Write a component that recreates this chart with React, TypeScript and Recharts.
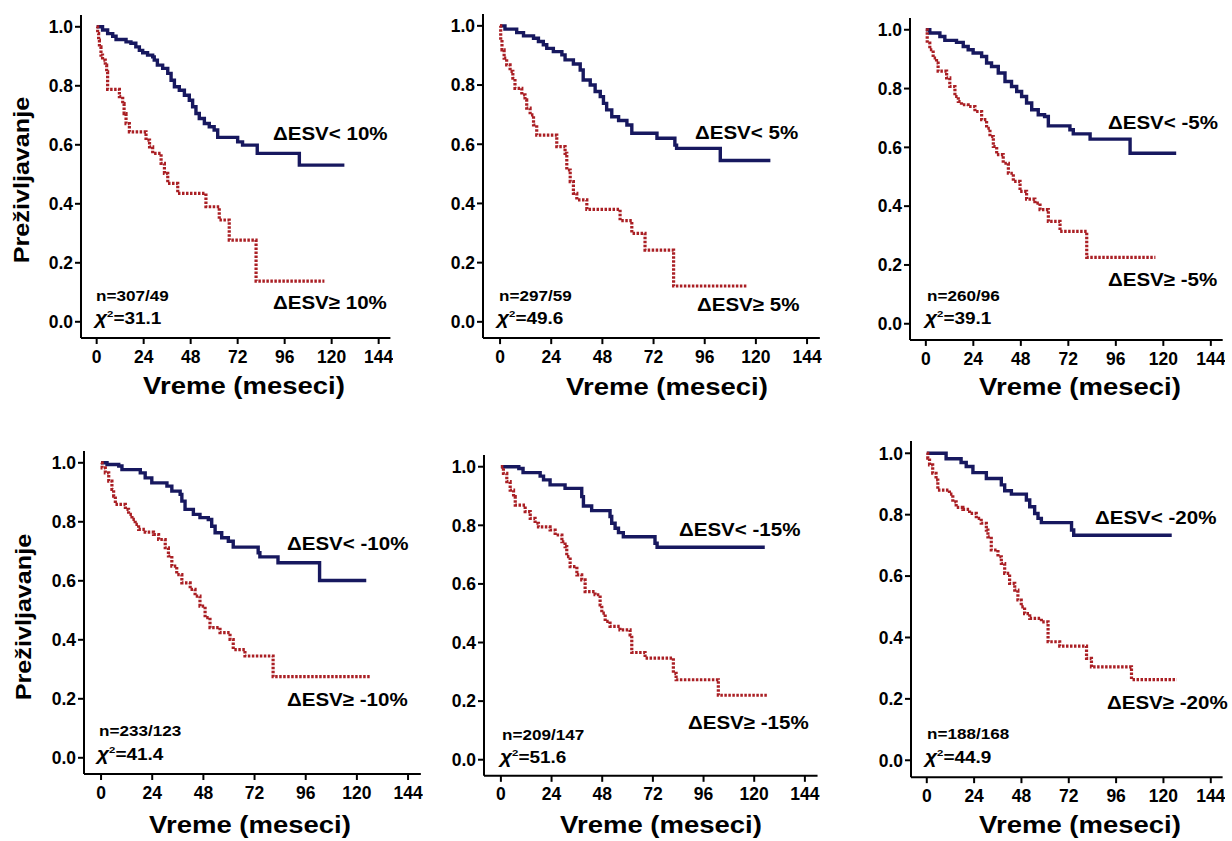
import React from "react"
import { LineChart, Line, XAxis, YAxis } from "recharts"

type Pt = { t: number; s: number }
const pts = (rows: number[][]): Pt[] => rows.map(([t, s]) => ({ t, s }))

// survival curves, [month, survival] at each step
const p1Below = pts([[0,1],[3,0.989],[5.6,0.977],[8.2,0.968],[9.9,0.957],[15,0.949],[17.5,0.944],[20,0.932],[21.8,0.92],[23.5,0.912],[26,0.904],[28.6,0.898],[29.4,0.887],[31,0.87],[33.7,0.859],[36.3,0.842],[38,0.819],[39.7,0.797],[42.2,0.785],[44.8,0.768],[47.3,0.751],[49,0.729],[50.7,0.706],[52.4,0.689],[55,0.672],[57.5,0.661],[60,0.65],[61.8,0.625],[72,0.61],[74.5,0.599],[82,0.571],[103.5,0.531],[126.5,0.531]])
const p1Above = pts([[0,1],[0.5,0.977],[1,0.955],[1.4,0.932],[2.2,0.904],[3,0.887],[4.4,0.87],[5.1,0.847],[5.6,0.788],[11.6,0.763],[13.3,0.74],[14,0.706],[15,0.672],[16.7,0.644],[25.2,0.616],[27,0.593],[28.6,0.571],[32.9,0.537],[34.6,0.503],[36.3,0.469],[41.4,0.435],[55.8,0.39],[62.6,0.345],[67.7,0.277],[81.4,0.138],[116.3,0.138]])

const p2Below = pts([[0,1],[2.3,0.989],[7.8,0.977],[11,0.966],[15.7,0.958],[18,0.947],[20.3,0.936],[21.9,0.924],[25,0.913],[29,0.902],[30.5,0.885],[34.4,0.871],[37.6,0.851],[39,0.817],[42.3,0.8],[44.6,0.778],[47,0.761],[48.5,0.738],[50,0.716],[52.4,0.693],[55.6,0.68],[59.5,0.665],[61.8,0.637],[73.6,0.62],[82,0.597],[82.8,0.586],[103.3,0.545],[126.8,0.545]])
const p2Above = pts([[0,1],[0.3,0.953],[0.9,0.919],[1.9,0.891],[3.1,0.868],[4.7,0.846],[6,0.823],[7,0.789],[10.2,0.767],[11.7,0.75],[12.5,0.722],[14.1,0.699],[15.7,0.665],[17.2,0.631],[26.6,0.592],[30.5,0.569],[31.3,0.513],[32.9,0.474],[34.4,0.434],[36,0.412],[40.7,0.38],[56.3,0.342],[61.8,0.299],[68,0.242],[81.4,0.121],[115.8,0.121]])

const p3Below = pts([[0,1],[2,0.989],[7.1,0.977],[9.6,0.964],[15.5,0.957],[18.9,0.943],[21.4,0.932],[23.9,0.921],[28.2,0.909],[30.7,0.887],[33.2,0.875],[36.6,0.853],[40,0.824],[43.3,0.807],[45.9,0.79],[48.4,0.773],[50.9,0.751],[53.5,0.728],[56.8,0.711],[60,0.705],[61.9,0.673],[72.8,0.66],[74.5,0.646],[83,0.628],[103.2,0.58],[126.5,0.58]])
const p3Above = pts([[0,1],[0.7,0.955],[2,0.932],[3.7,0.904],[5.4,0.887],[6.2,0.859],[10.5,0.836],[12.1,0.807],[14.7,0.773],[16.4,0.756],[18,0.745],[21.4,0.739],[24.8,0.722],[28.2,0.694],[30.7,0.665],[32.4,0.637],[34.1,0.603],[35.8,0.575],[39.1,0.546],[41.7,0.512],[44.2,0.484],[47.6,0.45],[50.9,0.424],[55.1,0.41],[57.7,0.388],[61.9,0.348],[67.8,0.314],[81.3,0.226],[116,0.226]])

const p4Below = pts([[0,1],[2.8,0.994],[8.3,0.989],[9.8,0.977],[18.4,0.966],[20.7,0.949],[23.8,0.932],[30.9,0.921],[33.2,0.904],[37.1,0.893],[37.9,0.87],[39.4,0.842],[43.3,0.825],[46.4,0.814],[50.3,0.808],[51.9,0.785],[53.5,0.763],[56.6,0.746],[59.7,0.734],[62,0.714],[73.7,0.695],[74.5,0.681],[83,0.661],[102.5,0.601],[124.4,0.601]])
const p4Above = pts([[0,1],[0.5,0.983],[2,0.966],[3.6,0.938],[5.1,0.91],[5.9,0.887],[6.7,0.859],[11.4,0.842],[12.9,0.825],[14.5,0.808],[16,0.791],[17.6,0.774],[20.7,0.765],[24.6,0.757],[27,0.74],[30.1,0.712],[31.6,0.684],[33.2,0.65],[35.5,0.621],[37.9,0.593],[41.8,0.571],[44.1,0.548],[46.4,0.514],[48.8,0.475],[51.1,0.441],[55.8,0.424],[60.5,0.401],[62,0.367],[67.5,0.345],[80.7,0.275],[126.7,0.275]])

const p5Below = pts([[0,1],[8.5,0.994],[10.5,0.98],[18.6,0.968],[20.2,0.955],[23.3,0.938],[30.4,0.926],[38.3,0.898],[39.1,0.866],[43,0.85],[51.7,0.83],[52.5,0.807],[54.1,0.79],[55.7,0.775],[58,0.761],[73,0.739],[74,0.725],[125,0.725]])
const p5Above = pts([[0,1],[1.2,0.977],[2.8,0.949],[4.4,0.92],[6,0.898],[6.8,0.869],[11.5,0.847],[13.9,0.824],[16.2,0.807],[17.8,0.795],[23.3,0.784],[25.7,0.767],[28.9,0.744],[30.4,0.727],[31.2,0.693],[32.8,0.659],[36,0.631],[38.3,0.614],[39.9,0.574],[44.6,0.563],[47,0.528],[47.8,0.5],[49.4,0.472],[51.7,0.455],[56.4,0.443],[61.2,0.426],[62,0.366],[68.3,0.347],[81.7,0.295],[83,0.273],[103,0.22],[126.6,0.22]])

const p6Below = pts([[0,1],[9.8,0.982],[17.4,0.97],[20,0.957],[23.4,0.937],[30.2,0.918],[37.8,0.897],[39.5,0.878],[42.9,0.867],[50.5,0.848],[52.2,0.826],[54.7,0.804],[56.4,0.788],[58.1,0.774],[73.4,0.75],[74.5,0.733],[124.2,0.733]])
const p6Above = pts([[0,1],[0.5,0.984],[1.4,0.962],[3,0.935],[4.7,0.913],[5.6,0.88],[11.5,0.867],[13.2,0.842],[14.9,0.824],[18.3,0.817],[21.7,0.804],[25.1,0.788],[27.6,0.772],[30.2,0.75],[31,0.728],[32.7,0.685],[36.1,0.663],[37.8,0.641],[39.5,0.609],[42,0.576],[44.6,0.554],[46.2,0.522],[47.9,0.5],[49.6,0.478],[52.2,0.462],[58.1,0.451],[61.5,0.386],[67.4,0.372],[81,0.332],[83.5,0.304],[103.8,0.263],[126.7,0.263]])

const xTicks = [0, 24, 48, 72, 96, 120, 144]
const yTicks = [0, 0.2, 0.4, 0.6, 0.8, 1]
const cutoffs = ["10%", "5%", "-5%", "-10%", "-15%", "-20%"]
const nLabels = ["n=307/49", "n=297/59", "n=260/96", "n=233/123", "n=209/147", "n=188/168"]
const chiLabels = ["31.1", "49.6", "39.1", "41.4", "51.6", "44.9"]

const X_DOM: [number, number] = [-8, 150]
const Y_DOM: [number, number] = [-0.055, 1.04]
const NAVY = "#17185f"
const RED = "#aa1f24"
const FONT = "'Liberation Sans', Arial, sans-serif"

// pixel layout per panel: x of 0, x of 144, y of 1.0, y of 0.0, label spots
const layout = [
  { x0: 97, x144: 379, y1: 27, y0: 322, up: [273, 133], lo: [273, 302], n: [96, 296], chi: [95, 318], title: [244, 387] },
  { x0: 500, x144: 807, y1: 26, y0: 322, up: [695, 132], lo: [697, 304], n: [499, 296], chi: [497, 318], title: [667, 388] },
  { x0: 926, x144: 1211, y1: 30, y0: 324, up: [1108, 122], lo: [1108, 279], n: [927, 296], chi: [925, 318], title: [1080, 388] },
  { x0: 101, x144: 408, y1: 463, y0: 758, up: [287, 543], lo: [287, 699], n: [99, 731], chi: [97, 754], title: [250, 826] },
  { x0: 501, x144: 805, y1: 467, y0: 760, up: [679, 529], lo: [688, 722], n: [502, 735], chi: [500, 757], title: [661, 826] },
  { x0: 927, x144: 1211, y1: 453, y0: 760, up: [1095, 517], lo: [1107, 702], n: [927, 734], chi: [925, 757], title: [1080, 826] },
]
const curves = [
  [p1Below, p1Above], [p2Below, p2Above], [p3Below, p3Above],
  [p4Below, p4Above], [p5Below, p5Above], [p6Below, p6Above],
]

const YW = 40
const XH = 40
const MT = 2
const MR = 2
const TICK_FS = 17.5

function XTick(p: any) {
  return (
    <text x={p.x} y={p.y} dy="0.72em" textAnchor="middle" fill="#000"
      fontSize={TICK_FS} fontWeight={700} fontFamily={FONT}>
      {p.payload.value}
    </text>
  )
}

function YTick(p: any) {
  return (
    <text x={p.x} y={p.y} dy="0.36em" textAnchor="end" fill="#000"
      fontSize={TICK_FS} fontWeight={700} fontFamily={FONT}>
      {Number(p.payload.value).toFixed(1)}
    </text>
  )
}

function Txt({ x, y, size, sx = 1.08, children }: any) {
  return (
    <div
      style={{
        position: "absolute", left: x, top: y, fontSize: size, lineHeight: 1,
        fontFamily: FONT, fontWeight: 700, whiteSpace: "nowrap", color: "#000",
        transform: `translateY(-50%) scaleX(${sx})`, transformOrigin: "left center",
      }}
    >
      {children}
    </div>
  )
}

function Panel({ i }: { i: number }) {
  const g = layout[i]
  const kx = (g.x144 - g.x0) / 144
  const ky = g.y0 - g.y1
  const left = g.x0 + X_DOM[0] * kx
  const right = g.x0 + X_DOM[1] * kx
  const top = g.y1 - (Y_DOM[1] - 1) * ky
  const bottom = g.y0 - Y_DOM[0] * ky
  const [below, above] = curves[i]
  return (
    <div style={{ position: "absolute", left: left - YW, top: top - MT }}>
      <LineChart
        width={right - left + YW + MR}
        height={bottom - top + MT + XH}
        margin={{ top: MT, right: MR, left: 0, bottom: 0 }}
      >
        <XAxis
          type="number" dataKey="t" domain={X_DOM} ticks={xTicks} interval={0}
          allowDataOverflow height={XH} tickSize={6} tickMargin={6}
          axisLine={{ stroke: "#000", strokeWidth: 2 }}
          tickLine={{ stroke: "#000", strokeWidth: 2 }} tick={XTick}
        />
        <YAxis
          type="number" dataKey="s" domain={Y_DOM} ticks={yTicks} interval={0}
          allowDataOverflow width={YW} tickSize={6} tickMargin={2}
          axisLine={{ stroke: "#000", strokeWidth: 2 }}
          tickLine={{ stroke: "#000", strokeWidth: 2 }} tick={YTick}
        />
        <Line data={below} dataKey="s" type="stepAfter" stroke={NAVY} strokeWidth={3.4}
          dot={false} isAnimationActive={false} />
        <Line data={above} dataKey="s" type="stepAfter" stroke={RED} strokeWidth={3.2}
          strokeDasharray="2.5 1.5" dot={false} isAnimationActive={false} />
      </LineChart>
    </div>
  )
}

export default function App() {
  return (
    <div style={{ position: "absolute", left: 0, top: 0, width: 1232, height: 841, background: "#fff", overflow: "hidden" }}>
      {layout.map((g, i) => (
        <React.Fragment key={i}>
          <Panel i={i} />
          <Txt x={g.up[0]} y={g.up[1]} size={19}>{"ΔESV< " + cutoffs[i]}</Txt>
          <Txt x={g.lo[0]} y={g.lo[1]} size={19}>{"ΔESV≥ " + cutoffs[i]}</Txt>
          <Txt x={g.n[0]} y={g.n[1]} size={14} sx={1.22}>{nLabels[i]}</Txt>
          <Txt x={g.chi[0]} y={g.chi[1]} size={16.5} sx={1.15}>
            <i style={{ fontSize: "1.1em" }}>χ</i>
            <span style={{ fontSize: "0.6em", position: "relative", top: "-0.7em" }}>2</span>
            {"=" + chiLabels[i]}
          </Txt>
          <div
            style={{
              position: "absolute", left: g.title[0], top: g.title[1], fontSize: 23.5, lineHeight: 1,
              fontFamily: FONT, fontWeight: 700, whiteSpace: "nowrap", color: "#000",
              transform: "translate(-50%, -50%) scaleX(1.17)",
            }}
          >
            Vreme (meseci)
          </div>
        </React.Fragment>
      ))}
      {[[23, 180], [25, 617]].map(([x, y], k) => (
        <div
          key={k}
          style={{
            position: "absolute", left: x, top: y, fontSize: 21.5, lineHeight: 1,
            fontFamily: FONT, fontWeight: 700, whiteSpace: "nowrap", color: "#000",
            transform: "translate(-50%, -50%) rotate(-90deg) scaleX(1.17)",
          }}
        >
          Preživljavanje
        </div>
      ))}
    </div>
  )
}
